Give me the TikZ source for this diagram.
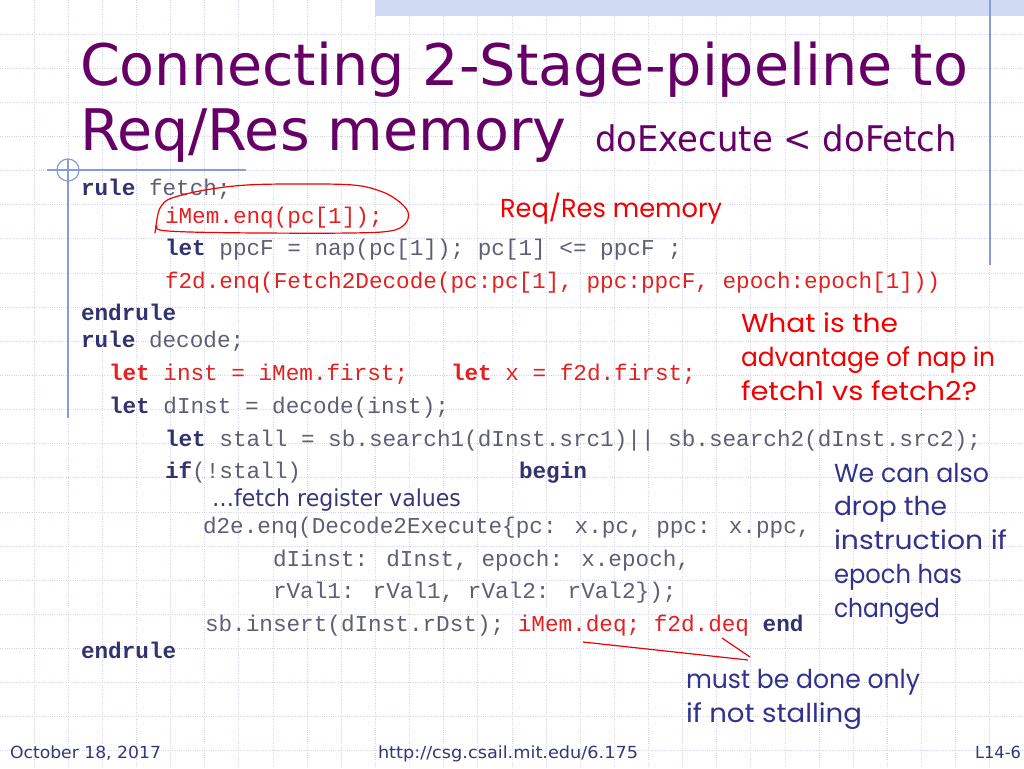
\documentclass[tikz,border=0pt]{standalone}
\usepackage{fontspec}
\usepackage{graphicx}
\setmainfont{DejaVu Sans}
\newfontfamily\tah{DejaVu Sans}
\newfontfamily\comic{Poppins}
\newfontfamily\cour{Liberation Mono}
\definecolor{titlec}{RGB}{102,0,102}
\definecolor{codec}{RGB}{95,95,115}
\definecolor{kwc}{RGB}{50,50,110}
\definecolor{codered}{RGB}{228,32,32}
\definecolor{annred}{RGB}{240,0,0}
\definecolor{annblue}{RGB}{50,50,140}
\definecolor{gridc}{RGB}{210,214,236}
\definecolor{rulec}{RGB}{135,155,215}
\definecolor{bandc}{RGB}{208,218,242}
\definecolor{footc}{RGB}{55,55,120}
\newcommand{\fw}[2]{\resizebox{#1}{\height}{#2}}
\newcommand{\kw}[1]{{\bfseries\color{kwc}#1}}
\newcommand{\rkw}[1]{{\bfseries #1}}
\tikzset{
  txt/.style={anchor=base west, inner sep=0pt, outer sep=0pt},
  code/.style={txt, font=\cour\fontsize{17}{20}\selectfont, text=codec},
  redcode/.style={code, text=codered},
  title/.style={txt, font=\tah\fontsize{43}{50}\selectfont, text=titlec},
  subtitle/.style={txt, font=\tah\fontsize{26.5}{30}\selectfont, text=titlec},
  note/.style={txt, font=\comic\fontsize{19.5}{24}\selectfont},
  rednote/.style={note, text=annred},
  bluenote/.style={note, text=annblue},
  foot/.style={txt, font=\tah\fontsize{12.5}{15}\selectfont, text=footc},
  gridline/.style={gridc, line width=0.7pt, densely dotted},
  deco/.style={rulec, line width=0.9pt},
  redmark/.style={annred, line width=0.9pt}
}
\begin{document}
\begin{tikzpicture}[x=0.75pt,y=-0.75pt]
\useasboundingbox (0,0) rectangle (1024,768);
\fill[white] (0,0) rectangle (1024,768);
% background grid
\foreach \i in {1,...,29} \draw[gridline] (\i*34.133,0) -- (\i*34.133,768);
\foreach \j in {1,...,22} \draw[gridline] (0,\j*34.133) -- (1024,\j*34.133);
% top band and decorations
\fill[bandc] (375,0) rectangle (1024,16);
\draw[deco] (990,0) -- (990,265);
\draw[deco] (47,170) -- (246,170);
\draw[deco] (68,170) circle[radius=11];
\draw[deco] (68,159) -- (68,418);
% title
\node[title] (t1) at (80,85) {\fw{666pt}{Connecting 2-Stage-pipeline to}};
\node[title] (t2) at (80,150) {\fw{365pt}{Req/Res memory}};
\node[subtitle] (t3) at (595,151) {\fw{271.5pt}{doExecute < doFetch}};
% code
\node[code] (c1) at (81,195) {\kw{rule} fetch;};
\node[redcode] (c2) at (165,223) {iMem.enq(pc[1]);};
\node[code] (c3) at (165,255) {\kw{let} ppcF = nap(pc[1]); pc[1] <= ppcF ;};
\node[redcode] (c4) at (165,288) {f2d.enq(Fetch2Decode(pc:pc[1], ppc:ppcF, epoch:epoch[1]))};
\node[code] (c5) at (81,320) {\kw{endrule}};
\node[code] (c6) at (81,347) {\kw{rule} decode;};
\node[redcode] (c7) at (109,380) {\rkw{let} inst = iMem.first;};
\node[redcode] (c8) at (451,380) {\rkw{let} x = f2d.first;};
\node[code] (c9) at (109,413) {\kw{let} dInst = decode(inst);};
\node[code] (c10) at (165,446) {\kw{let} stall = sb.search1(dInst.src1)|| sb.search2(dInst.src2);};
\node[code] (c11) at (165,478) {\kw{if}(!stall)};
\node[code] (c12) at (519,478) {\kw{begin}};
\node[txt, font=\tah\fontsize{17.5}{20}\selectfont, text=footc] (c13) at (212,506) {\fw{186.75pt}{…fetch register values}};
\node[code] (c14) at (203,533) {d2e.enq(Decode2Execute\{pc: x.pc, ppc: x.ppc,};
\node[code] (c15) at (273,566) {dIinst: dInst, epoch: x.epoch,};
\node[code] (c16) at (273,598) {rVal1: rVal1, rVal2: rVal2\});};
\node[code] (c17) at (205,631) {sb.insert(dInst.rDst); {\color{codered}iMem.deq; f2d.deq} \kw{end}};
\node[code] (c18) at (81,658) {\kw{endrule}};
% hand-drawn ellipse around iMem.enq
\draw[redmark, line cap=round, line join=round] plot[smooth, tension=0.6] coordinates {
 (155,233) (158,214) (162,205) (172,198) (205,190) (247,185) (300,184) (353,185)
 (380,191) (397,200) (408,212) (405,224) (390,231) (350,233) (260,233) (190,232) (160,230) (157,226)};
% annotations
\node[rednote] (n1) at (500,217) {\fw{166.5pt}{Req/Res memory}};
\node[rednote] (n2) at (741,332) {\fw{117.75pt}{What is the}};
\node[rednote] (n3) at (741,366) {\fw{190.5pt}{advantage of nap in}};
\node[rednote] (n4) at (741,400) {\fw{177pt}{fetch1 vs fetch2?}};
\node[bluenote] (b1) at (834,482) {\fw{116.25pt}{We can also}};
\node[bluenote] (b2) at (834,515) {\fw{84.75pt}{drop the}};
\node[bluenote] (b3) at (834,549) {\fw{129.75pt}{instruction if}};
\node[bluenote] (b4) at (834,583) {\fw{96pt}{epoch has}};
\node[bluenote] (b5) at (834,617) {\fw{79.5pt}{changed}};
\node[bluenote] (m1) at (686,688) {\fw{175.5pt}{must be done only}};
\node[bluenote] (m2) at (686,722) {\fw{132pt}{if not stalling}};
% pointer lines
\coordinate (p1s) at (583,642);
\coordinate (p1e) at (748,660);
\coordinate (p2s) at (722,638);
\coordinate (p2e) at (750,657);
\draw[redmark] (p1s) -- (p1e);
\draw[redmark] (p2s) -- (p2e);
% footer
\node[foot] (f1) at (10,758) {\fw{113.25pt}{October 18, 2017}};
\node[foot] (f2) at (378,758) {\fw{195pt}{http://csg.csail.mit.edu/6.175}};
\node[foot] (f3) at (975,758) {\fw{34.5pt}{L14-6}};
\end{tikzpicture}
\end{document}
